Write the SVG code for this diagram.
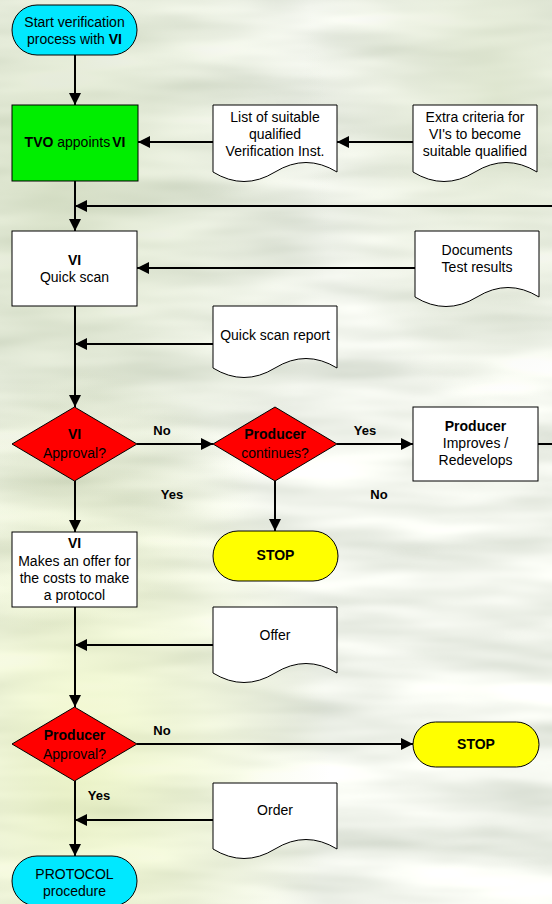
<svg xmlns="http://www.w3.org/2000/svg" width="552" height="904" viewBox="0 0 552 904">
<defs>
<filter id="bgtex" x="0" y="0" width="100%" height="100%" filterUnits="userSpaceOnUse">
<feTurbulence type="fractalNoise" baseFrequency="0.005 0.028" numOctaves="3" seed="7" result="n"/>
<feColorMatrix in="n" type="matrix" values="0.6 0 0 0 0.58  0.55 0 0 0 0.63  0.6 0 0 0 0.54  0 0 0 0 1"/>
</filter>
<radialGradient id="gtint1" cx="0.1" cy="0.2" r="0.5">
<stop offset="0" stop-color="#b8c89a" stop-opacity="0.45"/>
<stop offset="1" stop-color="#b8c89a" stop-opacity="0"/>
</radialGradient>
<radialGradient id="gtint2" cx="0.15" cy="0.85" r="0.45">
<stop offset="0" stop-color="#e4f0a8" stop-opacity="0.55"/>
<stop offset="1" stop-color="#e4f0a8" stop-opacity="0"/>
</radialGradient>
<radialGradient id="gtint3" cx="0.9" cy="0.1" r="0.35">
<stop offset="0" stop-color="#c8d4b0" stop-opacity="0.5"/>
<stop offset="1" stop-color="#c8d4b0" stop-opacity="0"/>
</radialGradient>
<marker id="ah" viewBox="0 0 12 12" refX="12" refY="6" markerWidth="12" markerHeight="12" markerUnits="userSpaceOnUse" orient="auto">
<path d="M0,0 L12,6 L0,12 z" fill="#000"/>
</marker>
<style>
.shape{stroke:#000;stroke-width:1}
.term{fill:#00e8ff}
.stop{fill:#ffff00}
.proc{fill:#fff}
.green{fill:#00ee00}
.dec{fill:#ff0000}
.doc{fill:#fff}
text{font-family:"Liberation Sans",Arial,sans-serif;font-size:14px;fill:#000;text-anchor:middle}
.b{font-weight:bold}
.lbl{font-weight:bold;font-size:13px}
.conn path{fill:none;stroke:#000;stroke-width:2}
.arr{marker-end:url(#ah)}
</style>
</defs>

<g id="background">
<rect x="0" y="0" width="552" height="904" filter="url(#bgtex)"/>
<rect x="0" y="0" width="552" height="904" fill="url(#gtint1)"/>
<rect x="0" y="0" width="552" height="904" fill="url(#gtint2)"/>
<rect x="0" y="0" width="552" height="904" fill="url(#gtint3)"/>
</g>

<g id="start">
<rect class="shape term" x="12" y="5" width="125" height="50" rx="25"/>
<text x="74.5" y="27">Start verification</text>
<text x="74.5" y="44">process with <tspan class="b">VI</tspan></text>
</g>

<g id="tvo">
<rect class="shape green" x="12" y="105" width="126" height="76"/>
<text x="75" y="147"><tspan class="b">TVO</tspan> appoints<tspan class="b" dx="2">VI</tspan></text>
</g>

<g id="doc-list">
<path class="shape doc" d="M213,105 H337 V172 Q306,153 275,172 T213,172 Z"/>
<text x="275" y="122">List of suitable</text>
<text x="275" y="139">qualified</text>
<text x="275" y="156">Verification Inst.</text>
</g>

<g id="doc-criteria">
<path class="shape doc" d="M413,105 H537 V172 Q506,153 475,172 T413,172 Z"/>
<text x="475" y="122">Extra criteria for</text>
<text x="475" y="139">VI's to become</text>
<text x="475" y="156">suitable qualified</text>
</g>

<g id="quickscan">
<rect class="shape proc" x="12" y="231" width="125" height="75"/>
<text class="b" x="74.5" y="265">VI</text>
<text x="74.5" y="282">Quick scan</text>
</g>

<g id="doc-documents">
<path class="shape doc" d="M415,231 H539 V297 Q508,278 477,297 T415,297 Z"/>
<text x="477" y="255">Documents</text>
<text x="477" y="272">Test results</text>
</g>

<g id="doc-qsreport">
<path class="shape doc" d="M213,306 H337 V368 Q306,349 275,368 T213,368 Z"/>
<text x="275" y="340">Quick scan report</text>
</g>

<g id="vi-approval">
<path class="shape dec" d="M74.5,407 L137,444 L74.5,481 L12,444 Z"/>
<text class="b" x="74.5" y="439">VI</text>
<text x="74.5" y="458">Approval?</text>
</g>

<g id="producer-continues">
<path class="shape dec" d="M275,407 L337,444 L275,481 L213,444 Z"/>
<text class="b" x="275" y="439">Producer</text>
<text x="275" y="458">continues?</text>
</g>

<g id="producer-improves">
<rect class="shape proc" x="413" y="407" width="125" height="74"/>
<text class="b" x="475.5" y="431">Producer</text>
<text x="475.5" y="448">Improves /</text>
<text x="475.5" y="465">Redevelops</text>
</g>

<g id="stop1">
<rect class="shape stop" x="213" y="531" width="125" height="50" rx="25"/>
<text class="b" x="275.5" y="560">STOP</text>
</g>

<g id="vi-offer">
<rect class="shape proc" x="12" y="532" width="125" height="75"/>
<text class="b" x="74.5" y="548">VI</text>
<text x="74.5" y="566">Makes an offer for</text>
<text x="74.5" y="583">the costs to make</text>
<text x="74.5" y="600">a protocol</text>
</g>

<g id="doc-offer">
<path class="shape doc" d="M213,607 H337 V673 Q306,654 275,673 T213,673 Z"/>
<text x="275" y="640">Offer</text>
</g>

<g id="producer-approval">
<path class="shape dec" d="M74.5,707 L137,744 L74.5,781 L12,744 Z"/>
<text class="b" x="74.5" y="740">Producer</text>
<text x="74.5" y="759">Approval?</text>
</g>

<g id="stop2">
<rect class="shape stop" x="413" y="722" width="126" height="45" rx="22.5"/>
<text class="b" x="476" y="749">STOP</text>
</g>

<g id="doc-order">
<path class="shape doc" d="M213,783 H337 V849 Q306,830 275,849 T213,849 Z"/>
<text x="275" y="815">Order</text>
</g>

<g id="protocol">
<rect class="shape term" x="12" y="856" width="125" height="50" rx="25"/>
<text x="74.5" y="879">PROTOCOL</text>
<text x="74.5" y="896">procedure</text>
</g>

<g id="connectors" class="conn">
<path class="arr" d="M75,55 V105"/>
<path class="arr" d="M213,142 H138"/>
<path class="arr" d="M413,142 H337"/>
<path class="arr" d="M552,206 H75"/>
<path class="arr" d="M75,181 V231"/>
<path class="arr" d="M415,268 H137"/>
<path class="arr" d="M213,344 H75"/>
<path class="arr" d="M75,306 V407"/>
<path class="arr" d="M137,444 H213"/>
<path class="arr" d="M337,444 H413"/>
<path d="M538,444 H552"/>
<path class="arr" d="M75,481 V532"/>
<path class="arr" d="M275,481 V531"/>
<path class="arr" d="M75,607 V707"/>
<path class="arr" d="M213,645 H75"/>
<path class="arr" d="M137,744 H413"/>
<path class="arr" d="M75,781 V856"/>
<path class="arr" d="M213,820 H75"/>
</g>

<g id="labels">
<text class="lbl" x="162" y="435">No</text>
<text class="lbl" x="365" y="435">Yes</text>
<text class="lbl" x="172" y="499">Yes</text>
<text class="lbl" x="379" y="499">No</text>
<text class="lbl" x="162" y="735">No</text>
<text class="lbl" x="99" y="800">Yes</text>
</g>
</svg>
